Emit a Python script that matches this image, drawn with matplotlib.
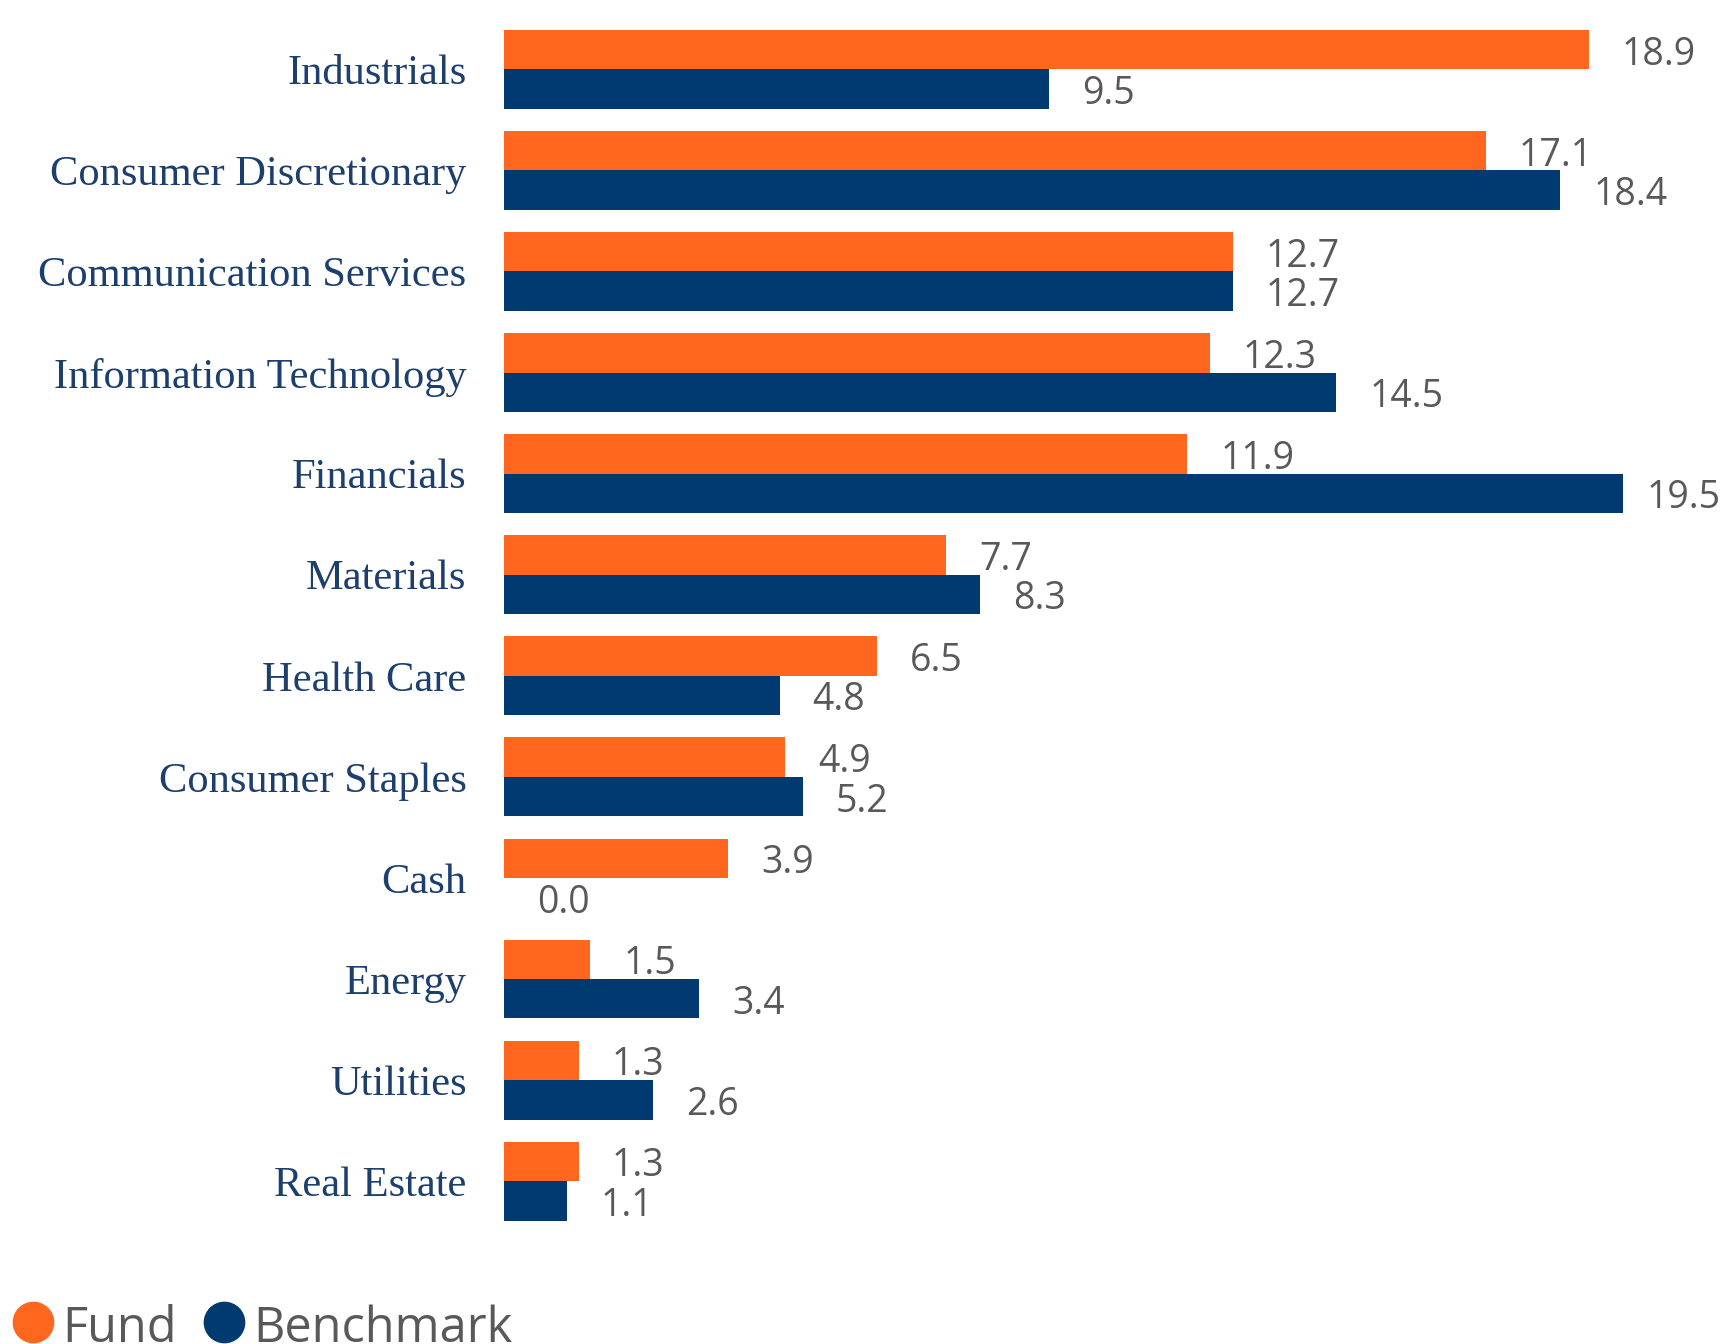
import numpy as np
import matplotlib.pyplot as plt
from matplotlib.lines import Line2D

categories = ["Industrials", "Consumer Discretionary", "Communication Services",
              "Information Technology", "Financials", "Materials", "Health Care",
              "Consumer Staples", "Cash", "Energy", "Utilities", "Real Estate"]
fund = [18.9, 17.1, 12.7, 12.3, 11.9, 7.7, 6.5, 4.9, 3.9, 1.5, 1.3, 1.3]
benchmark = [9.5, 18.4, 12.7, 14.5, 19.5, 8.3, 4.8, 5.2, 0.0, 3.4, 2.6, 1.1]
series_names = ["Fund", "Benchmark"]

ORANGE = "#FF671F"
NAVY = "#003A70"
GREY = "#595959"
LABEL_BLUE = "#1C3F6E"

W, H = 1725, 1344
fig = plt.figure(figsize=(W / 100, H / 100), dpi=100)
ax = fig.add_axes([504 / W, 1 - 1260 / H, 1 - 504 / W, 1260 / H])

y = np.arange(len(categories))
h = 0.39
ax.barh(y - h / 2, fund, height=h, color=ORANGE)
ax.barh(y + h / 2, benchmark, height=h, color=NAVY)

ax.set_xlim(0, 21.27)
ax.set_ylim(11.78, -0.686)

# value labels, baseline placed so the digits sit on the bar centre
labels = []
for i in range(len(categories)):
    for val, yy in ((fund[i], y[i] - h / 2), (benchmark[i], y[i] + h / 2)):
        t = ax.annotate(f"{val:.1f}", (val, yy), xytext=(33, -15),
                        textcoords="offset pixels", va="baseline", ha="left",
                        fontsize=27, color=GREY, family="Open Sans")
        labels.append(t)

ax.set_yticks(y)
ax.set_yticklabels(categories, family="Liberation Serif", fontsize=30.6, color=LABEL_BLUE)
ax.tick_params(axis="y", length=0, pad=27)
ax.set_xticks([])
for s in ax.spines.values():
    s.set_visible(False)

# pull labels back in if they run past the right edge
fig.canvas.draw()
r = fig.canvas.get_renderer()
for t in labels:
    bb = t.get_window_extent(r)
    over = bb.x1 - (W - 4)
    if over > 0:
        t.xyann = (33 - over, -15)

# legend drawn by hand at the bottom
fig.add_artist(Line2D([33 / W], [1 - 1322 / H], marker="o", markersize=29,
                      color=ORANGE, transform=fig.transFigure))
fig.text(62 / W, 1 - 1342 / H, series_names[0], fontsize=35, color=GREY,
         family="Open Sans", va="baseline")
fig.add_artist(Line2D([224 / W], [1 - 1322 / H], marker="o", markersize=29,
                      color=NAVY, transform=fig.transFigure))
fig.text(253 / W, 1 - 1342 / H, series_names[1], fontsize=35, color=GREY,
         family="Open Sans", va="baseline")

fig.savefig("out.png", dpi=100)
